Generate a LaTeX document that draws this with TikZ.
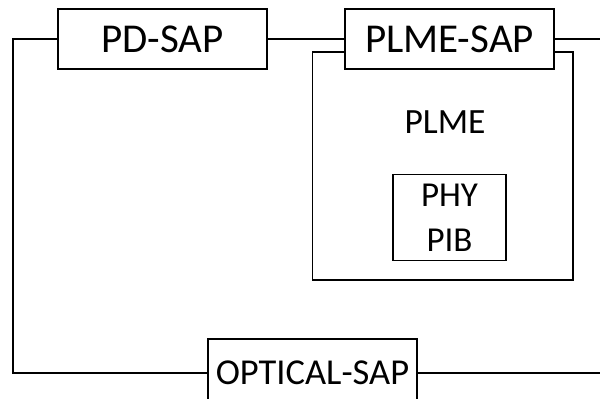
\documentclass[tikz,border=0pt]{standalone}
\usepackage{fontspec}
\setmainfont{Carlito}
\begin{document}
\begin{tikzpicture}[x=1pt,y=-1pt,
  wire/.style={line width=1.6pt},
  boxnode/.style={draw,line width=1.6pt,fill=white,inner sep=0pt,anchor=center},
  bigtxt/.style={font=\fontsize{41}{44}\selectfont},
  midtxt/.style={font=\fontsize{36.5}{40}\selectfont}]
\useasboundingbox (0,0) rectangle (600,399);
\begin{scope}
\clip (0,0) rectangle (600,399);
% PLME outer box
\node[draw,line width=1.6pt,minimum width=260.5pt,minimum height=228pt,inner sep=0pt] (plme) at (442.75,166) {};
\node[font=\fontsize{35.5}{38}\selectfont] (plmelab) at (445,122) {PLME};
\node[boxnode,minimum width=113pt,minimum height=86pt,align=center,font=\fontsize{35}{45}\selectfont] (pib) at (449.5,217.5) {PHY\\PIB};
% SAP boxes
\node[boxnode,bigtxt,minimum width=209pt,minimum height=60pt] (pd) at (162.5,39) {PD-SAP};
\node[boxnode,bigtxt,minimum width=209pt,minimum height=60pt] (plmesap) at (449.5,39) {PLME-SAP};
\node[boxnode,midtxt,minimum width=209pt,minimum height=68pt] (opt) at (312.5,373) {OPTICAL-SAP};
% connectors
\coordinate (tl) at (13,39);
\coordinate (bl) at (13,373);
\coordinate (tr) at (601,39);
\coordinate (br) at (601,373);
\draw[wire] (pd.west) -- (tl) -- (bl) -- (opt.west);
\draw[wire] (pd.east) -- (plmesap.west);
\draw[wire] (plmesap.east) -- (tr);
\draw[wire] (opt.east) -- (br);
\end{scope}
\end{tikzpicture}
\end{document}
